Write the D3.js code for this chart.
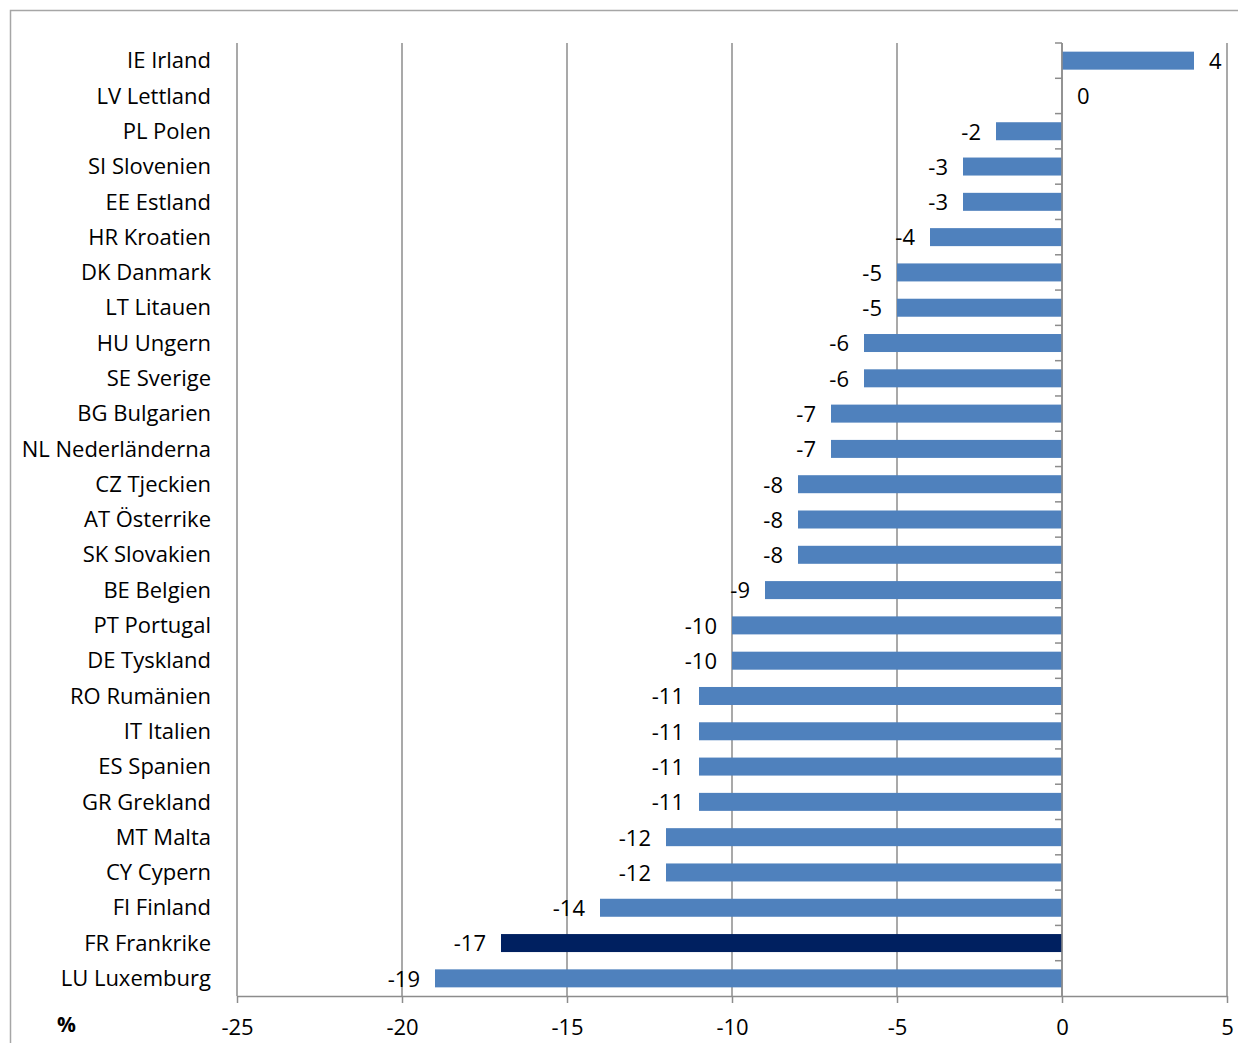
<!DOCTYPE html>
<html>
<head>
<meta charset="utf-8">
<script src="https://cdn.jsdelivr.net/npm/d3@7.9.0/dist/d3.min.js"></script>
<style>
  body { margin: 0; background: #fff; }
  svg { display: block; font-family: 'Open Sans', 'Noto Sans', sans-serif; }
</style>
</head>
<body>
<svg id="chart" width="1238" height="1043"></svg>
<script>
const countries = [
  'IE Irland', 'LV Lettland', 'PL Polen', 'SI Slovenien', 'EE Estland', 'HR Kroatien',
  'DK Danmark', 'LT Litauen', 'HU Ungern', 'SE Sverige', 'BG Bulgarien', 'NL Nederländerna',
  'CZ Tjeckien', 'AT Österrike', 'SK Slovakien', 'BE Belgien', 'PT Portugal', 'DE Tyskland',
  'RO Rumänien', 'IT Italien', 'ES Spanien', 'GR Grekland', 'MT Malta', 'CY Cypern',
  'FI Finland', 'FR Frankrike', 'LU Luxemburg'
];
const values = [4, 0, -2, -3, -3, -4, -5, -5, -6, -6, -7, -7, -8, -8, -8, -9, -10, -10,
  -11, -11, -11, -11, -12, -12, -14, -17, -19];
const highlight = ['FR Frankrike'];
const xTicks = [-25, -20, -15, -10, -5, 0, 5];

const svg = d3.select('#chart');
const plotLeft = 237, plotRight = 1227, plotTop = 43, plotBottom = 996;

// frame round the chart
svg.append('path')
  .attr('d', 'M10.5,1043 V10.5 H1238')
  .attr('fill', 'none')
  .attr('stroke', '#a6a6a6')
  .attr('stroke-width', 1.5);

const x = d3.scaleLinear().domain([-25, 5]).range([plotLeft, plotRight]);
const y = d3.scaleBand().domain(countries).range([plotTop, plotBottom]).paddingInner(0.49).paddingOuter(0.245);
const yb = d3.scaleBand().domain(countries).range([plotTop, plotBottom]);

// gridlines
svg.append('g')
  .selectAll('line')
  .data(xTicks)
  .join('line')
  .attr('x1', d => x(d)).attr('x2', d => x(d))
  .attr('y1', plotTop).attr('y2', plotBottom)
  .attr('stroke', '#8c8c8c')
  .attr('stroke-width', 1.5);

// bars
svg.append('g')
  .selectAll('rect')
  .data(countries)
  .join('rect')
  .attr('x', (d, i) => x(Math.min(0, values[i])))
  .attr('width', (d, i) => Math.abs(x(values[i]) - x(0)))
  .attr('y', d => y(d))
  .attr('height', y.bandwidth())
  .attr('fill', d => highlight.includes(d) ? '#002060' : '#4f81bd');

// zero axis with category ticks
const zero = svg.append('g');
zero.append('line')
  .attr('x1', x(0)).attr('x2', x(0))
  .attr('y1', plotTop).attr('y2', plotBottom)
  .attr('stroke', '#8c8c8c').attr('stroke-width', 1.5);
zero.selectAll('line.tick')
  .data(countries)
  .join('line')
  .attr('class', 'tick')
  .attr('x1', x(0) - 7).attr('x2', x(0))
  .attr('y1', d => yb(d)).attr('y2', d => yb(d))
  .attr('stroke', '#8c8c8c').attr('stroke-width', 1.5);

// bottom axis
const xAxis = svg.append('g')
  .attr('transform', `translate(0,${plotBottom})`)
  .call(d3.axisBottom(x).tickValues(xTicks).tickFormat(d => String(d))
    .tickSize(7).tickSizeOuter(0).tickPadding(16));
xAxis.select('.domain').attr('stroke', '#8c8c8c').attr('stroke-width', 1.5);
xAxis.selectAll('.tick line').attr('stroke', '#8c8c8c').attr('stroke-width', 1.5);
xAxis.selectAll('.tick text')
  .attr('font-size', 22)
  .attr('fill', '#000')
  .attr('font-family', "'Open Sans', 'Noto Sans', sans-serif");

// category labels
svg.append('g')
  .selectAll('text')
  .data(countries)
  .join('text')
  .attr('x', 211)
  .attr('y', d => yb(d) + yb.bandwidth() / 2)
  .attr('dy', '0.35em')
  .attr('text-anchor', 'end')
  .attr('font-size', 22)
  .text(d => d);

// value labels
svg.append('g')
  .selectAll('text')
  .data(countries)
  .join('text')
  .attr('x', (d, i) => values[i] < 0 ? x(values[i]) - 15 : x(values[i]) + 15)
  .attr('y', d => yb(d) + yb.bandwidth() / 2)
  .attr('dy', '0.38em')
  .attr('text-anchor', (d, i) => values[i] < 0 ? 'end' : 'start')
  .attr('font-size', 22)
  .text((d, i) => values[i]);

// unit label
svg.append('text')
  .attr('x', 57).attr('y', 1032)
  .attr('font-size', 21)
  .attr('font-weight', 'bold')
  .text('%');
</script>
</body>
</html>
